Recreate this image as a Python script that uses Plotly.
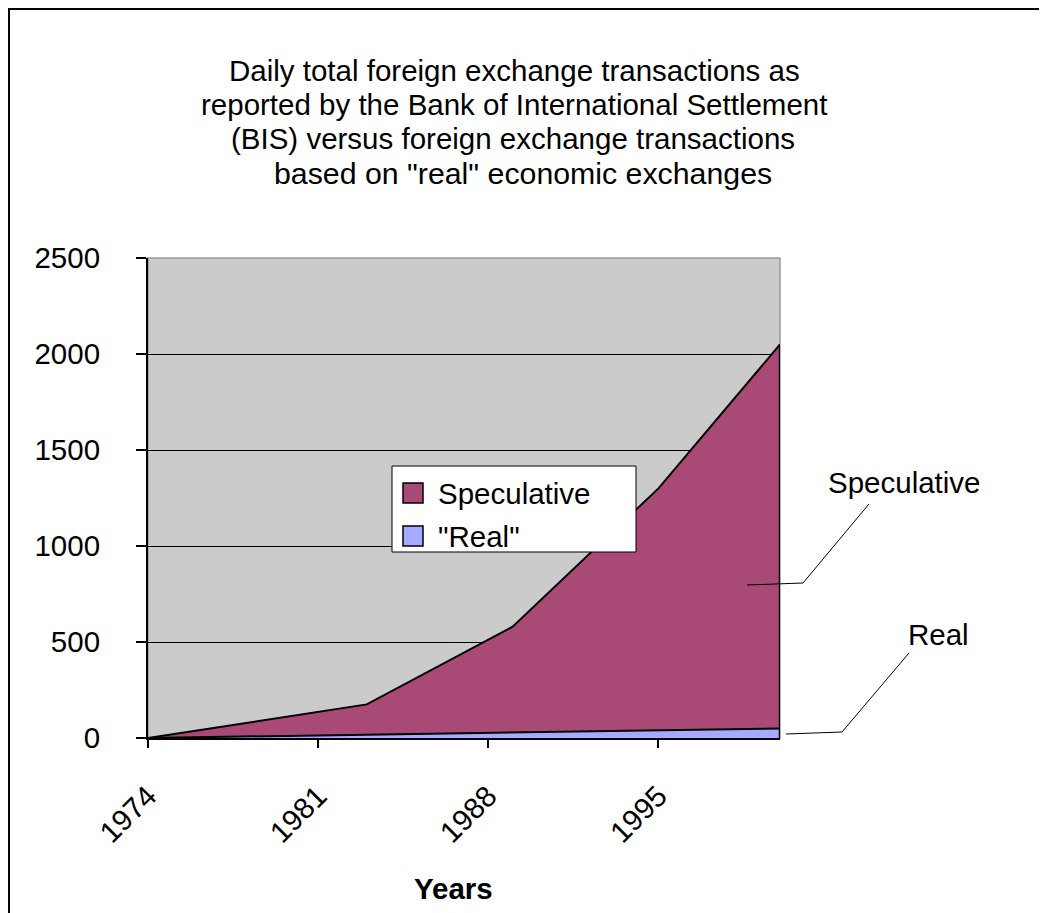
import plotly.graph_objects as go

# ---- data ----
years = [1974, 1983, 1989, 1995, 2000]
real = [0, 17, 32, 42, 50]
speculative = [0, 158, 548, 1258, 2000]
series_names = ["Speculative", '"Real"']
x_ticks = [1974, 1981, 1988, 1995]
y_ticks = [0, 500, 1000, 1500, 2000, 2500]
title_lines = [
    "Daily total foreign exchange transactions as",
    "reported by the Bank of International Settlement",
    "(BIS) versus foreign exchange transactions",
    'based on "real" economic exchanges',
]

OFF = 8  # browser body margin
W, H = 1047 - OFF, 913 - OFF
L, R, T, B = 148, 780, 258, 738  # plot area box in page pixels
FONT = "Liberation Sans, Arial, sans-serif"
FS = 29.5
SPEC_COLOR = "#A94A76"
REAL_COLOR = "#A6AAFE"


def px(x):
    return (x - L) / (R - L)


def py(y):
    return (B - y) / (B - T)


fig = go.Figure()
fig.add_trace(go.Scatter(
    x=years, y=real, name=series_names[1], stackgroup="one", mode="lines",
    line=dict(color="black", width=2), fillcolor=REAL_COLOR, showlegend=False,
))
fig.add_trace(go.Scatter(
    x=years, y=speculative, name=series_names[0], stackgroup="one", mode="lines",
    line=dict(color="black", width=2), fillcolor=SPEC_COLOR, showlegend=False,
))

shapes = []
shapes.append(dict(type="rect", xref="paper", yref="paper", x0=0, x1=1, y0=0, y1=1,
                   line=dict(color="#999999", width=1.5), layer="below"))
shapes.append(dict(type="line", xref="x", yref="y", x0=years[-1], x1=years[-1],
                   y0=0, y1=real[-1] + speculative[-1], line=dict(color="black", width=2.5)))
shapes.append(dict(type="rect", xref="paper", yref="paper",
                   x0=px(9), x1=px(1070), y0=py(9), y1=py(940),
                   line=dict(color="black", width=2)))
shapes.append(dict(type="path", xref="paper", yref="paper",
                   path=f"M{px(747)},{py(585)} L{px(803)},{py(583)} L{px(869)},{py(504)}",
                   line=dict(color="black", width=1)))
shapes.append(dict(type="path", xref="paper", yref="paper",
                   path=f"M{px(786)},{py(734)} L{px(842)},{py(732)} L{px(909)},{py(653)}",
                   line=dict(color="black", width=1)))
shapes.append(dict(type="rect", xref="paper", yref="paper",
                   x0=px(392), x1=px(636), y0=py(466), y1=py(552),
                   fillcolor="white", line=dict(color="black", width=1)))
shapes.append(dict(type="rect", xref="paper", yref="paper",
                   x0=px(403), x1=px(423), y0=py(483), y1=py(503),
                   fillcolor=SPEC_COLOR, line=dict(color="black", width=1.5)))
shapes.append(dict(type="rect", xref="paper", yref="paper",
                   x0=px(403), x1=px(423), y0=py(526), y1=py(546),
                   fillcolor=REAL_COLOR, line=dict(color="black", width=1.5)))

annotations = []
title_centers = [514, 514, 513, 523]
title_y = [70, 104.3, 138.6, 173]
title_sizes = [FS, FS, FS, 30.3]
for line, cx, cy, fs in zip(title_lines, title_centers, title_y, title_sizes):
    annotations.append(dict(text=line, x=px(cx), y=py(cy), xref="paper", yref="paper",
                            xanchor="center", yanchor="middle", showarrow=False,
                            font=dict(family=FONT, size=fs, color="black")))
annotations.append(dict(text="Speculative", x=px(904), y=py(482), xref="paper", yref="paper",
                        xanchor="center", yanchor="middle", showarrow=False,
                        font=dict(family=FONT, size=FS, color="black")))
annotations.append(dict(text="Real", x=px(938), y=py(634), xref="paper", yref="paper",
                        xanchor="center", yanchor="middle", showarrow=False,
                        font=dict(family=FONT, size=FS, color="black")))
annotations.append(dict(text="<b>Years</b>", x=px(453), y=py(888), xref="paper", yref="paper",
                        xanchor="center", yanchor="middle", showarrow=False,
                        font=dict(family=FONT, size=FS, color="black")))
annotations.append(dict(text=series_names[0], x=px(436), y=py(493), xref="paper", yref="paper",
                        xanchor="left", yanchor="middle", showarrow=False,
                        font=dict(family=FONT, size=FS, color="black")))
annotations.append(dict(text=series_names[1], x=px(436), y=py(536), xref="paper", yref="paper",
                        xanchor="left", yanchor="middle", showarrow=False,
                        font=dict(family=FONT, size=FS, color="black")))

fig.update_layout(
    width=W, height=H,
    margin=dict(l=L - OFF, r=W - (R - OFF), t=T - OFF, b=H - (B - OFF), pad=0),
    paper_bgcolor="white", plot_bgcolor="#CBCBCB",
    font=dict(family=FONT, size=FS, color="black"),
    showlegend=False,
    shapes=shapes, annotations=annotations,
    xaxis=dict(range=[years[0], years[-1]], tickvals=x_ticks, ticktext=[str(v) for v in x_ticks],
               tickangle=-45, ticks="outside", ticklen=8, tickwidth=1.5, tickcolor="black",
               showline=True, linecolor="black", linewidth=2, showgrid=False, zeroline=False,
               ticklabelstandoff=19, tickfont=dict(family=FONT, size=FS)),
    yaxis=dict(range=[0, 2500], tickvals=y_ticks, ticks="outside", ticklen=10, tickwidth=1.5,
               tickcolor="black", showline=True, linecolor="black", linewidth=2,
               showgrid=True, gridcolor="black", gridwidth=1, zeroline=False,
               ticklabelstandoff=30, tickfont=dict(family=FONT, size=FS)),
)

fig.write_html("out.html")
